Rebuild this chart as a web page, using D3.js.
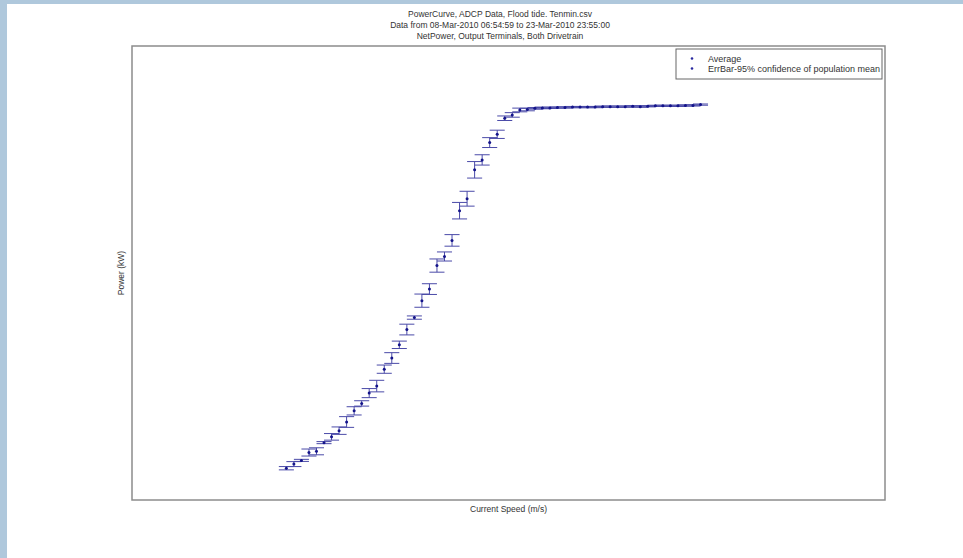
<!DOCTYPE html>
<html>
<head>
<meta charset="utf-8">
<script src="https://cdn.jsdelivr.net/npm/d3@7"></script>
<style>
  body { margin: 0; background: #fff; }
  svg { display: block; font-family: "Liberation Sans", Arial, sans-serif; }
</style>
</head>
<body>
<svg id="chart" width="963" height="558"></svg>
<script>
const titleLines = [
  "PowerCurve, ADCP Data, Flood tide. Tenmin.csv",
  "Data from 08-Mar-2010 06:54:59 to 23-Mar-2010 23:55:00",
  "NetPower, Output Terminals, Both Drivetrain"
];
const legendLabels = ["Average", "ErrBar-95% confidence of population mean"];

// bin centre current speed (m/s)
const speed = [
  1.025, 1.075, 1.125, 1.175, 1.225, 1.275, 1.325, 1.375, 1.425, 1.475,
  1.525, 1.575, 1.625, 1.675, 1.725, 1.775, 1.825, 1.875, 1.925, 1.975,
  2.025, 2.075, 2.125, 2.175, 2.225, 2.275, 2.325, 2.375, 2.425, 2.475,
  2.525, 2.575, 2.625, 2.675, 2.725, 2.775, 2.825, 2.875, 2.925, 2.975,
  3.025, 3.075, 3.125, 3.175, 3.225, 3.275, 3.325, 3.375, 3.425, 3.475,
  3.525, 3.575, 3.625, 3.675, 3.725, 3.775
];
// mean net power (kW)
const power = [
  77, 87, 96, 115, 118, 139, 153, 168, 189, 216,
  234, 259, 276, 317, 344, 376, 413, 442, 483, 511,
  568, 590, 629, 701, 730, 800, 824, 866, 886, 925,
  933, 945, 946, 949, 950, 950, 951, 951, 952, 952,
  952, 952, 953, 953, 953, 953, 954, 953, 954, 955,
  955, 955, 955, 956, 956, 958
];
// 95% confidence half-width (kW)
const errHalf = [
  4, 6, 2.5, 8.5, 8.5, 2.5, 8, 9, 13, 10,
  6.5, 11, 14, 10, 13, 9, 13, 4, 16, 13,
  16, 11, 14, 20, 18, 20, 12.5, 12, 10, 5.5,
  5.5, 4.5, 3, 2, 2, 1.5, 1.5, 1.5, 1.5, 1.5,
  1.5, 1.5, 1.5, 1.5, 1.5, 1.5, 1.5, 1.5, 1.5, 1.5,
  1.5, 1.5, 1.5, 1.5, 1.5, 1.5
];
const capHalf = 0.05; // m/s

const svg = d3.select("#chart");
const W = 963, H = 558;
const plot = { left: 132, top: 46, right: 885, bottom: 500 };

// pale blue page frame
svg.append("rect").attr("width", W).attr("height", H).attr("fill", "#afc8dc");
svg.append("rect").attr("x", 7).attr("y", 4).attr("width", W - 7).attr("height", H - 4).attr("fill", "#fff");

const x = d3.scaleLinear().domain([0, 5]).range([plot.left, plot.right]);
const y = d3.scaleLinear().domain([0, 1100]).range([plot.bottom, plot.top]);

const data = speed.map((s, i) => ({ s, p: power[i], e: errHalf[i] }));

// titles
svg.append("g").selectAll("text")
  .data(titleLines)
  .enter()
  .append("text")
  .attr("x", 500)
  .attr("y", (d, i) => 17 + i * 11)
  .attr("text-anchor", "middle")
  .attr("font-size", 8.5)
  .attr("fill", "#333")
  .text(d => d);

// plot frame
svg.append("rect")
  .attr("x", plot.left).attr("y", plot.top)
  .attr("width", plot.right - plot.left).attr("height", plot.bottom - plot.top)
  .attr("fill", "#fff")
  .attr("stroke", "#8c8c8c")
  .attr("stroke-width", 1.5);

// error bars
const bars = svg.append("g")
  .attr("stroke", "#4a4aa8")
  .attr("stroke-width", 1)
  .attr("fill", "none");

bars.selectAll("line.stem")
  .data(data)
  .enter()
  .append("line")
  .attr("class", "stem")
  .attr("x1", d => x(d.s)).attr("x2", d => x(d.s))
  .attr("y1", d => y(d.p - d.e)).attr("y2", d => y(d.p + d.e));

bars.selectAll("line.capTop")
  .data(data)
  .enter()
  .append("line")
  .attr("class", "capTop")
  .attr("x1", d => x(d.s - capHalf)).attr("x2", d => x(d.s + capHalf))
  .attr("y1", d => y(d.p + d.e)).attr("y2", d => y(d.p + d.e));

bars.selectAll("line.capBot")
  .data(data)
  .enter()
  .append("line")
  .attr("class", "capBot")
  .attr("x1", d => x(d.s - capHalf)).attr("x2", d => x(d.s + capHalf))
  .attr("y1", d => y(d.p - d.e)).attr("y2", d => y(d.p - d.e));

// averages
svg.append("g").selectAll("circle")
  .data(data)
  .enter()
  .append("circle")
  .attr("cx", d => x(d.s))
  .attr("cy", d => y(d.p))
  .attr("r", 1.5)
  .attr("fill", "#14148a");

// legend
const legend = svg.append("g").attr("transform", "translate(676,49)");
legend.append("rect")
  .attr("width", 206).attr("height", 30)
  .attr("fill", "#fff")
  .attr("stroke", "#666")
  .attr("stroke-width", 1);
legend.selectAll("circle")
  .data(legendLabels)
  .enter()
  .append("circle")
  .attr("cx", 16).attr("cy", (d, i) => 9.5 + i * 10)
  .attr("r", 1.3)
  .attr("fill", "#2a2aa0");
legend.selectAll("text")
  .data(legendLabels)
  .enter()
  .append("text")
  .attr("x", 32).attr("y", (d, i) => 12.5 + i * 10)
  .attr("font-size", 9)
  .attr("fill", "#333")
  .text(d => d);

// axis titles
svg.append("text")
  .attr("x", (plot.left + plot.right) / 2)
  .attr("y", 512)
  .attr("text-anchor", "middle")
  .attr("font-size", 8.5)
  .attr("fill", "#333")
  .text("Current Speed (m/s)");

svg.append("text")
  .attr("transform", "translate(124,273) rotate(-90)")
  .attr("text-anchor", "middle")
  .attr("font-size", 8.5)
  .attr("fill", "#333")
  .text("Power (kW)");
</script>
</body>
</html>
